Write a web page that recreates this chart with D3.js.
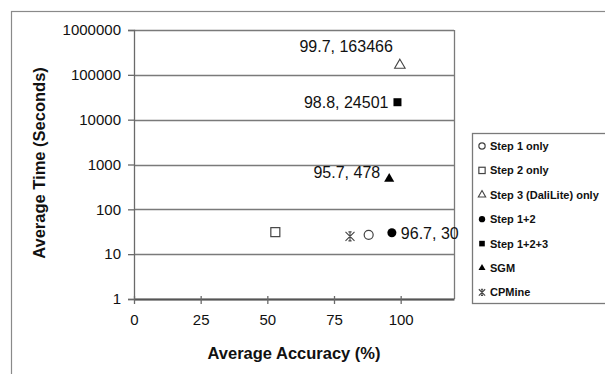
<!DOCTYPE html>
<html>
<head>
<meta charset="utf-8">
<script src="https://cdn.jsdelivr.net/npm/d3@7"></script>
<style>
body { margin:0; background:#fff; }
text { font-family: "Liberation Sans", Arial, sans-serif; }
</style>
</head>
<body>
<div id="chart"></div>
<script>
// series names, in legend order
var seriesNames = ["Step 1 only", "Step 2 only", "Step 3 (DaliLite) only", "Step 1+2", "Step 1+2+3", "SGM", "CPMine"];
var accuracy = [88, 53, 99.7, 96.7, 98.8, 95.7, 81];
var avgTime = [27, 31, 163466, 30, 24501, 478, 25];
// point labels (empty = no label)
var pointLabels = ["", "", "99.7, 163466", "96.7, 30", "98.8, 24501", "95.7, 478", ""];
var xTicks = [0, 25, 50, 75, 100];
var yTicks = [1, 10, 100, 1000, 10000, 100000, 1000000];

var W = 605, H = 374;
var margin = {top:30, left:134, right:151, bottom:75};
var width = W - margin.left - margin.right,
    height = H - margin.top - margin.bottom;

var svg = d3.select("#chart").append("svg")
  .attr("width", W).attr("height", H);

// outer chart frame (runs off the picture)
svg.append("rect")
  .attr("x", 11.5).attr("y", 11.5)
  .attr("width", W + 20).attr("height", H + 20)
  .attr("fill", "none").attr("stroke", "#8a8a8a").attr("stroke-width", 1.2);

var g = svg.append("g")
  .attr("transform", "translate(" + margin.left + "," + margin.top + ")");

var x = d3.scaleLinear().domain([0, 120]).range([0, width]);
var y = d3.scaleLog().domain([1, 1000000]).range([height, 0]);

// gridlines
g.selectAll(".grid")
  .data(yTicks)
  .enter().append("line")
  .attr("x1", 0).attr("x2", width)
  .attr("y1", function(d){ return Math.round(y(d)) + 0.5; })
  .attr("y2", function(d){ return Math.round(y(d)) + 0.5; })
  .attr("stroke", "#7a7a7a").attr("stroke-width", 1.3);

// right border
g.append("line")
  .attr("x1", width + 0.5).attr("x2", width + 0.5)
  .attr("y1", 0).attr("y2", height)
  .attr("stroke", "#7a7a7a").attr("stroke-width", 1.3);

// y axis
var yAxis = g.append("g")
  .call(d3.axisLeft(y).tickValues(yTicks).tickSize(6).tickPadding(7)
    .tickFormat(d3.format("d")));
yAxis.select(".domain").attr("stroke", "#6a6a6a").attr("stroke-width", 1.3);
yAxis.selectAll(".tick line").attr("stroke", "#6a6a6a").attr("stroke-width", 1.3);
yAxis.selectAll("text").style("font-size", "15px").attr("fill", "#111")
  .style("font-family", "Liberation Sans, Arial, sans-serif");

// x axis (ticks cross the axis)
var xAxis = g.append("g")
  .attr("transform", "translate(0," + height + ")")
  .call(d3.axisBottom(x).tickValues(xTicks).tickSizeInner(5).tickSizeOuter(0).tickPadding(10));
xAxis.select(".domain").attr("stroke", "#555").attr("stroke-width", 2);
xAxis.selectAll(".tick line").attr("stroke", "#6a6a6a").attr("stroke-width", 1.3).attr("y1", -3);
xAxis.selectAll("text").style("font-size", "15px").attr("fill", "#111")
  .style("font-family", "Liberation Sans, Arial, sans-serif");

// axis titles
svg.append("text")
  .attr("x", margin.left + x(60)).attr("y", 359)
  .attr("text-anchor", "middle")
  .style("font-size", "16.5px").style("font-weight", "bold").attr("fill", "#111")
  .text("Average Accuracy (%)");
svg.append("text")
  .attr("transform", "translate(45,163) rotate(-90)")
  .attr("text-anchor", "middle")
  .style("font-size", "16.5px").style("font-weight", "bold").attr("fill", "#111")
  .text("Average Time (Seconds)");

// marker drawing
function drawMarker(sel, i, s) {
  var k = s / 10;
  if (i === 0) {
    sel.append("circle").attr("r", 4.5 * k).attr("fill", "#fff").attr("stroke", "#444").attr("stroke-width", 1.2);
  } else if (i === 1) {
    sel.append("rect").attr("x", -4.5 * k).attr("y", -4.5 * k).attr("width", 9 * k).attr("height", 9 * k)
      .attr("fill", "#fff").attr("stroke", "#444").attr("stroke-width", 1.2);
  } else if (i === 2) {
    sel.append("path").attr("d", d3.symbol(d3.symbolTriangle, 48 * k * k)())
      .attr("fill", "#fff").attr("stroke", "#444").attr("stroke-width", 1.1);
  } else if (i === 3) {
    sel.append("circle").attr("r", 4.5 * k).attr("fill", "#000");
  } else if (i === 4) {
    sel.append("rect").attr("x", -4 * k).attr("y", -4 * k).attr("width", 8 * k).attr("height", 8 * k).attr("fill", "#000");
  } else if (i === 5) {
    sel.append("path").attr("d", d3.symbol(d3.symbolTriangle, 44 * k * k)()).attr("fill", "#000");
  } else {
    // star marker: x with a vertical stroke and short caps
    var a = 4.5 * k;
    sel.append("path")
      .attr("d", "M" + (-a) + "," + (-a) + "L" + a + "," + a + "M" + a + "," + (-a) + "L" + (-a) + "," + a +
                 "M0," + (-a) + "L0," + a + "M" + (-a * 0.35) + "," + (-a) + "L" + (a * 0.35) + "," + (-a) +
                 "M" + (-a * 0.35) + "," + a + "L" + (a * 0.35) + "," + a)
      .attr("stroke", "#444").attr("stroke-width", 1.1).attr("fill", "none");
  }
}

var pts = g.selectAll(".pt")
  .data(seriesNames)
  .enter().append("g")
  .attr("transform", function(d, i){ return "translate(" + x(accuracy[i]) + "," + y(avgTime[i]) + ")"; })
  .each(function(d, i){ drawMarker(d3.select(this), i, 10); });

// data labels
var labelPos = {
  2: {dx: -7, dy: -13, anchor: "end"},
  3: {dx: 9, dy: 6, anchor: "start"},
  4: {dx: -9, dy: 6, anchor: "end"},
  5: {dx: -9, dy: -1, anchor: "end"}
};
pointLabels.forEach(function(t, i){
  if (!t) return;
  var p = labelPos[i];
  g.append("text")
    .attr("x", x(accuracy[i]) + p.dx).attr("y", y(avgTime[i]) + p.dy)
    .attr("text-anchor", p.anchor)
    .style("font-size", "16px").attr("fill", "#111")
    .text(t);
});

// legend
var lg = svg.append("g").attr("transform", "translate(472,133)");
lg.append("rect")
  .attr("x", 0.5).attr("y", 0.5).attr("width", 200).attr("height", 170)
  .attr("fill", "#fff").attr("stroke", "#7a7a7a").attr("stroke-width", 1.3);
var items = lg.selectAll(".item")
  .data(seriesNames)
  .enter().append("g")
  .attr("transform", function(d, i){ return "translate(10," + (13 + i * 24.4) + ")"; });
items.each(function(d, i){ drawMarker(d3.select(this), i, 7); });
items.append("text")
  .attr("x", 8).attr("y", 4)
  .style("font-size", "11px").style("font-weight", "bold").attr("fill", "#111")
  .text(function(d){ return d; });
</script>
</body>
</html>
